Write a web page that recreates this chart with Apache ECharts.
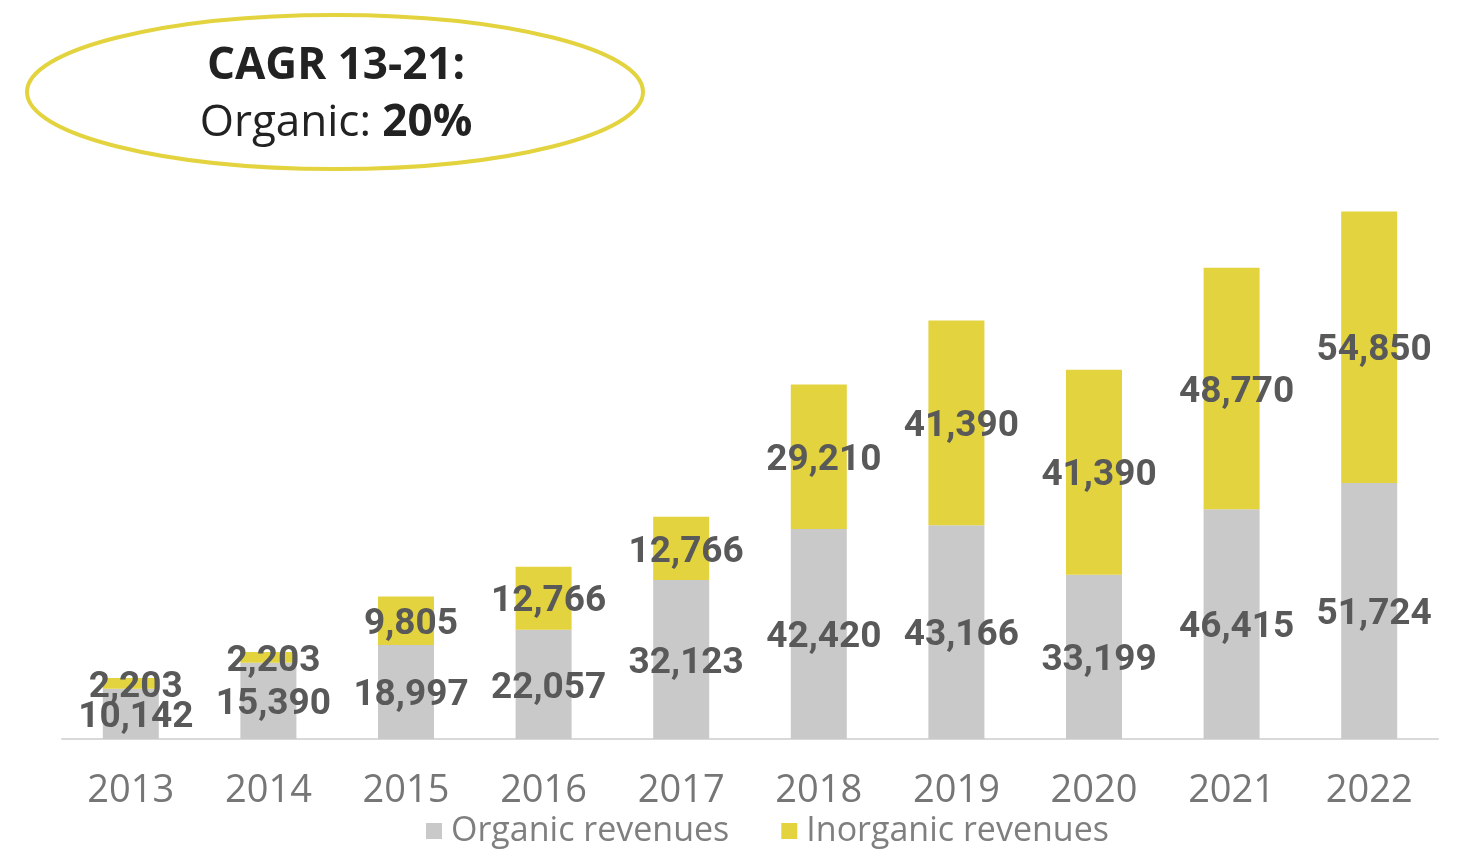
<!DOCTYPE html>
<html>
<head>
<meta charset="utf-8">
<script src="https://cdn.jsdelivr.net/npm/echarts@6/dist/echarts.min.js"></script>
<style>
  html, body { margin: 0; padding: 0; background: #fff; }
  #chart { width: 1468px; height: 850px; }
</style>
</head>
<body>
<div id="chart"></div>
<script>
// 数据
const years = ['2013', '2014', '2015', '2016', '2017', '2018', '2019', '2020', '2021', '2022'];
const organic = [10142, 15390, 18997, 22057, 32123, 42420, 43166, 33199, 46415, 51724];
const inorganic = [2203, 2203, 9805, 12766, 12766, 29210, 41390, 41390, 48770, 54850];

const GRAY = '#c9c9c9';
const YELLOW = '#e3d33f';
const LABEL_COLOR = '#595959';

const chart = echarts.init(document.getElementById('chart'));

const labelStyle = {
    show: true,
    position: 'inside',
    offset: [5, 4],
    color: LABEL_COLOR,
    fontFamily: 'Roboto',
    fontWeight: 'bold',
    fontSize: 37,
    formatter: p => Number(p.value).toLocaleString('en-US')
};

chart.setOption({
    animation: false,
    grid: { left: 62, right: 30, top: 194.5, bottom: 111 },
    xAxis: {
        type: 'category',
        data: years,
        axisLine: { lineStyle: { color: '#d9d9d9', width: 2 } },
        axisTick: { show: false },
        axisLabel: {
            color: '#767676',
            fontFamily: 'Open Sans',
            fontSize: 38,
            margin: 33
        }
    },
    yAxis: {
        type: 'value',
        min: 0,
        max: 110000,
        show: false,
        splitLine: { show: false }
    },
    legend: {
        bottom: -3,
        left: 421,
        itemWidth: 16,
        itemHeight: 16,
        itemGap: 52,
        icon: 'rect',
        textStyle: { color: '#7f7f7f', fontFamily: 'Open Sans', fontSize: 34, padding: [0, 0, 0, 4] },
        data: ['Organic revenues', 'Inorganic revenues']
    },
    series: [
        {
            name: 'Organic revenues',
            type: 'bar',
            stack: 'total',
            barWidth: 56,
            itemStyle: { color: GRAY },
            label: labelStyle,
            data: organic
        },
        {
            name: 'Inorganic revenues',
            type: 'bar',
            stack: 'total',
            barWidth: 56,
            itemStyle: { color: YELLOW },
            label: labelStyle,
            data: inorganic
        }
    ],
    graphic: [
        {
            type: 'ellipse',
            shape: { cx: 335, cy: 92, rx: 308, ry: 77 },
            style: { fill: 'none', stroke: YELLOW, lineWidth: 4 }
        },
        {
            type: 'text',
            x: 336, y: 66,
            style: {
                text: 'CAGR 13-21:',
                fill: '#222',
                font: 'bold 44px "Open Sans"',
                align: 'center',
                verticalAlign: 'middle'
            }
        },
        {
            type: 'text',
            x: 336, y: 123,
            style: {
                text: '{a|Organic: }{b|20%}',
                align: 'center',
                verticalAlign: 'middle',
                rich: {
                    a: { fill: '#222', fontFamily: 'Open Sans', fontSize: 44 },
                    b: { fill: '#222', fontFamily: 'Open Sans', fontSize: 44, fontWeight: 'bold' }
                }
            }
        }
    ]
});

window.addEventListener('resize', () => chart.resize());
</script>
</body>
</html>
